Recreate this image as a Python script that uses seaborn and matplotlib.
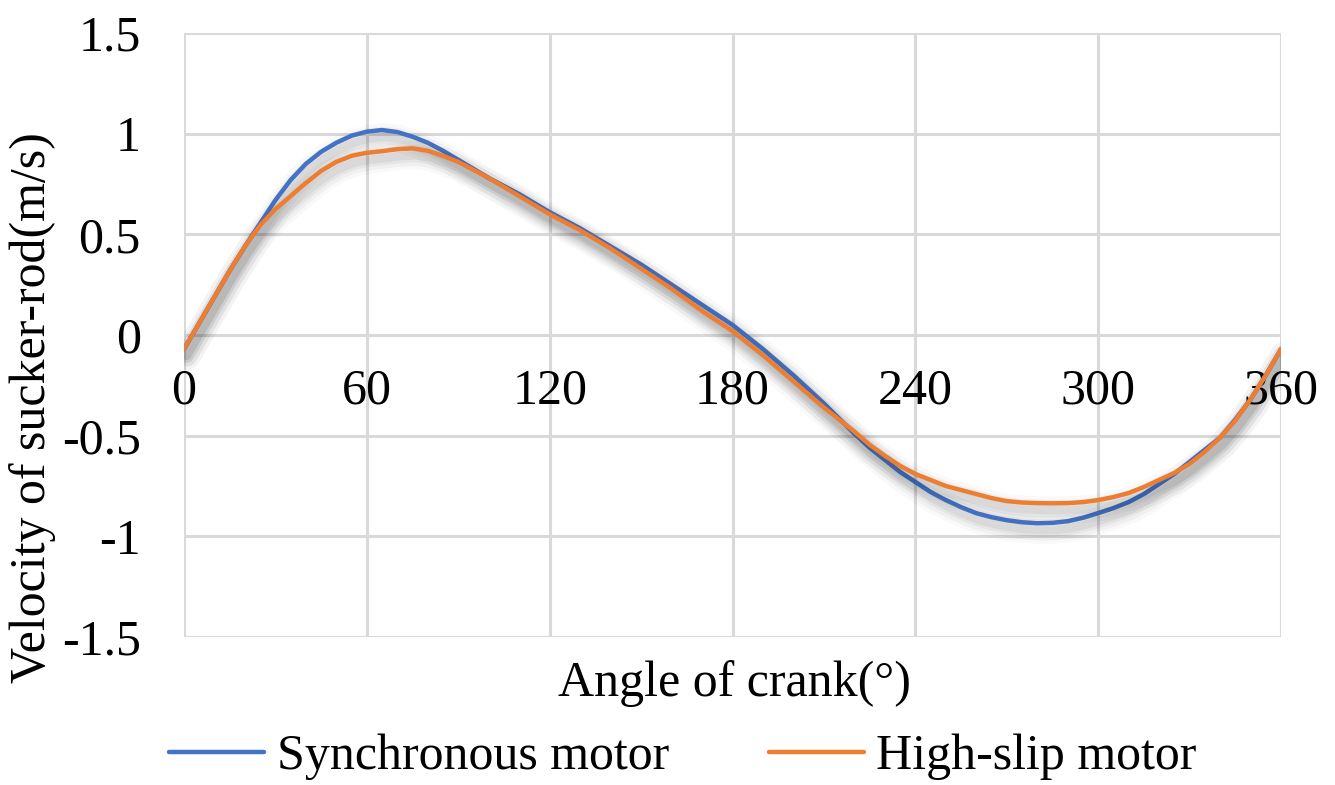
import numpy as np
import pandas as pd
import matplotlib
matplotlib.use("Agg")
import matplotlib.pyplot as plt
import matplotlib.patheffects as pe
from matplotlib.lines import Line2D
import seaborn as sns

angles = list(range(0, 361, 5))
synchronous = [-0.07, 0.06, 0.19, 0.32, 0.44, 0.555, 0.67, 0.77, 0.85, 0.91,
               0.955, 0.99, 1.01, 1.018, 1.008, 0.985, 0.955, 0.915, 0.87, 0.825,
               0.78, 0.74, 0.70, 0.655, 0.61, 0.57, 0.53, 0.485, 0.44, 0.395,
               0.35, 0.30, 0.25, 0.20, 0.15, 0.10, 0.05, -0.01, -0.07, -0.135,
               -0.20, -0.27, -0.34, -0.415, -0.49, -0.56, -0.62, -0.68, -0.73, -0.78,
               -0.82, -0.855, -0.885, -0.905, -0.92, -0.93, -0.935, -0.933, -0.925, -0.908,
               -0.885, -0.86, -0.83, -0.79, -0.74, -0.69, -0.63, -0.57, -0.51, -0.42,
               -0.32, -0.20, -0.07]
high_slip = [-0.07, 0.06, 0.19, 0.32, 0.44, 0.545, 0.625, 0.69, 0.755, 0.815,
             0.86, 0.89, 0.905, 0.913, 0.923, 0.927, 0.915, 0.89, 0.86, 0.82,
             0.78, 0.735, 0.69, 0.645, 0.60, 0.56, 0.52, 0.475, 0.43, 0.38,
             0.33, 0.28, 0.23, 0.175, 0.12, 0.07, 0.02, -0.04, -0.10, -0.165,
             -0.23, -0.295, -0.36, -0.42, -0.48, -0.545, -0.60, -0.65, -0.69, -0.72,
             -0.75, -0.77, -0.79, -0.81, -0.825, -0.832, -0.835, -0.836, -0.835, -0.83,
             -0.82, -0.805, -0.785, -0.755, -0.72, -0.685, -0.64, -0.58, -0.51, -0.425,
             -0.32, -0.20, -0.07]
series_names = ["Synchronous motor", "High-slip motor"]
x_ticks = [0, 60, 120, 180, 240, 300, 360]
y_ticks = [-1.5, -1, -0.5, 0, 0.5, 1, 1.5]
y_tick_labels = ["-1.5", "-1", "-0.5", "0", "0.5", "1", "1.5"]
x_label = "Angle of crank(°)"
y_label = "Velocity of sucker-rod(m/s)"

df = pd.DataFrame({
    "angle": angles * 2,
    "velocity": synchronous + high_slip,
    "series": [series_names[0]] * len(angles) + [series_names[1]] * len(angles),
})

sns.set_theme(style="white")
plt.rcParams["font.family"] = ["Liberation Serif", "DejaVu Serif"]
plt.rcParams["text.color"] = "black"

FS = 36
fig = plt.figure(figsize=(13.35, 7.85), dpi=100)
ax = fig.add_axes([184 / 1335, 1 - 637 / 785, (1281 - 184) / 1335, (637 - 33) / 785])

palette = {series_names[0]: "#4472C4", series_names[1]: "#ED7D31"}
sns.lineplot(data=df, x="angle", y="velocity", hue="series", palette=palette,
             linewidth=3.2, ax=ax, legend=False, zorder=5)

shadow = [pe.SimpleLineShadow(offset=(2, -5), shadow_color="black", alpha=a, linewidth=w)
          for w, a in ((20, 0.025), (15, 0.035), (10, 0.045), (6, 0.05))] + [pe.Normal()]
for ln in ax.get_lines():
    ln.set_path_effects(shadow)
    ln.set_solid_capstyle("round")
    ln.set_solid_joinstyle("round")

ax.set_xlim(0, 360)
ax.set_ylim(-1.5, 1.5)
ax.set_xticks(x_ticks)
ax.set_yticks(y_ticks)
ax.set_yticklabels(y_tick_labels)
ax.grid(True, color="#d9d9d9", linewidth=2.2)
ax.set_axisbelow(True)
for s in ax.spines.values():
    s.set_visible(False)
ax.spines["bottom"].set_position(("data", 0))
ax.tick_params(axis="both", length=0, labelsize=FS, colors="black")
ax.tick_params(axis="x", pad=24)
ax.tick_params(axis="y", pad=31)
for lbl in ax.get_xticklabels():
    lbl.set_zorder(1)
ax.set_xlabel("")
ax.set_ylabel("")

fig.text(735 / 1335, 1 - 684 / 785, x_label, fontsize=FS, ha="center", va="center", color="black")
fig.text(33 / 1335, 1 - 408 / 785, y_label, fontsize=FS, ha="center", va="center",
         rotation=90, color="black")

handles = [Line2D([], [], color=palette[n], linewidth=3.2) for n in series_names]
leg = fig.legend(handles, series_names, loc="center", bbox_to_anchor=(683 / 1335, 1 - 757 / 785),
                 ncol=2, frameon=False, fontsize=FS, handlelength=1.9, handletextpad=0.25,
                 columnspacing=2.0)
for t in leg.get_texts():
    t.set_color("black")

fig.savefig("out.png", dpi=100)
